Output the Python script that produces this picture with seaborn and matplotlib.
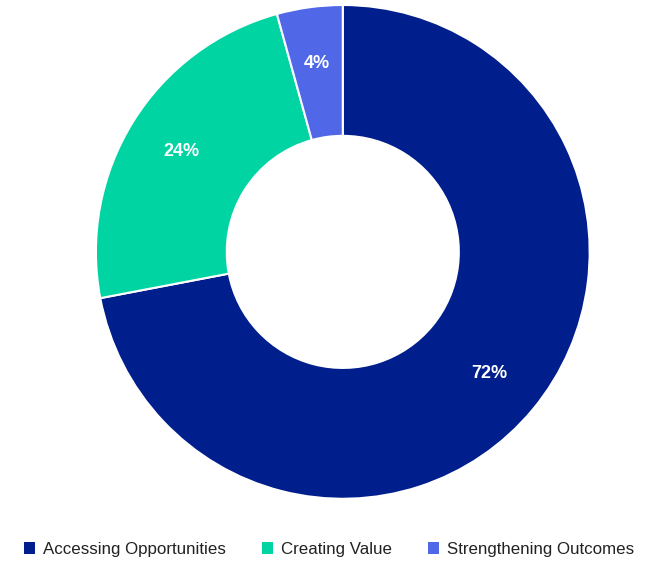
import matplotlib
matplotlib.use("Agg")
import matplotlib.pyplot as plt
from matplotlib.patches import Patch
import seaborn as sns

categories = ["Accessing Opportunities", "Creating Value", "Strengthening Outcomes"]
shares = [72.0, 23.7, 4.3]
colors = ["#001E8C", "#00D4A2", "#5068E8"]

sns.set_theme(style="white")
plt.rcParams["font.family"] = ["Liberation Sans", "DejaVu Sans"]

fig = plt.figure(figsize=(6.48, 5.61), dpi=100)
ax = fig.add_axes([0.529 - 0.381, 0.551 - 0.4403, 0.762, 0.8806])

wedges, _, autotexts = ax.pie(
    shares,
    colors=colors,
    startangle=90,
    counterclock=False,
    autopct="%.0f%%",
    pctdistance=0.77,
    wedgeprops=dict(width=0.53, edgecolor="white", linewidth=1.5),
    textprops=dict(color="white", fontsize=13, fontweight="bold"),
)
ax.set_xlim(-1, 1)
ax.set_ylim(-1, 1)
ax.set_aspect("equal")
ax.axis("off")

handles = [Patch(facecolor=c, edgecolor="none") for c in colors]
fig.legend(
    handles, categories,
    loc="lower center", bbox_to_anchor=(0.508, -0.02),
    ncol=3, frameon=False, fontsize=12.2, labelcolor="#222222",
    handlelength=0.65, handleheight=0.65, handletextpad=0.5, columnspacing=2.1,
)

fig.savefig("out.png", dpi=100)
